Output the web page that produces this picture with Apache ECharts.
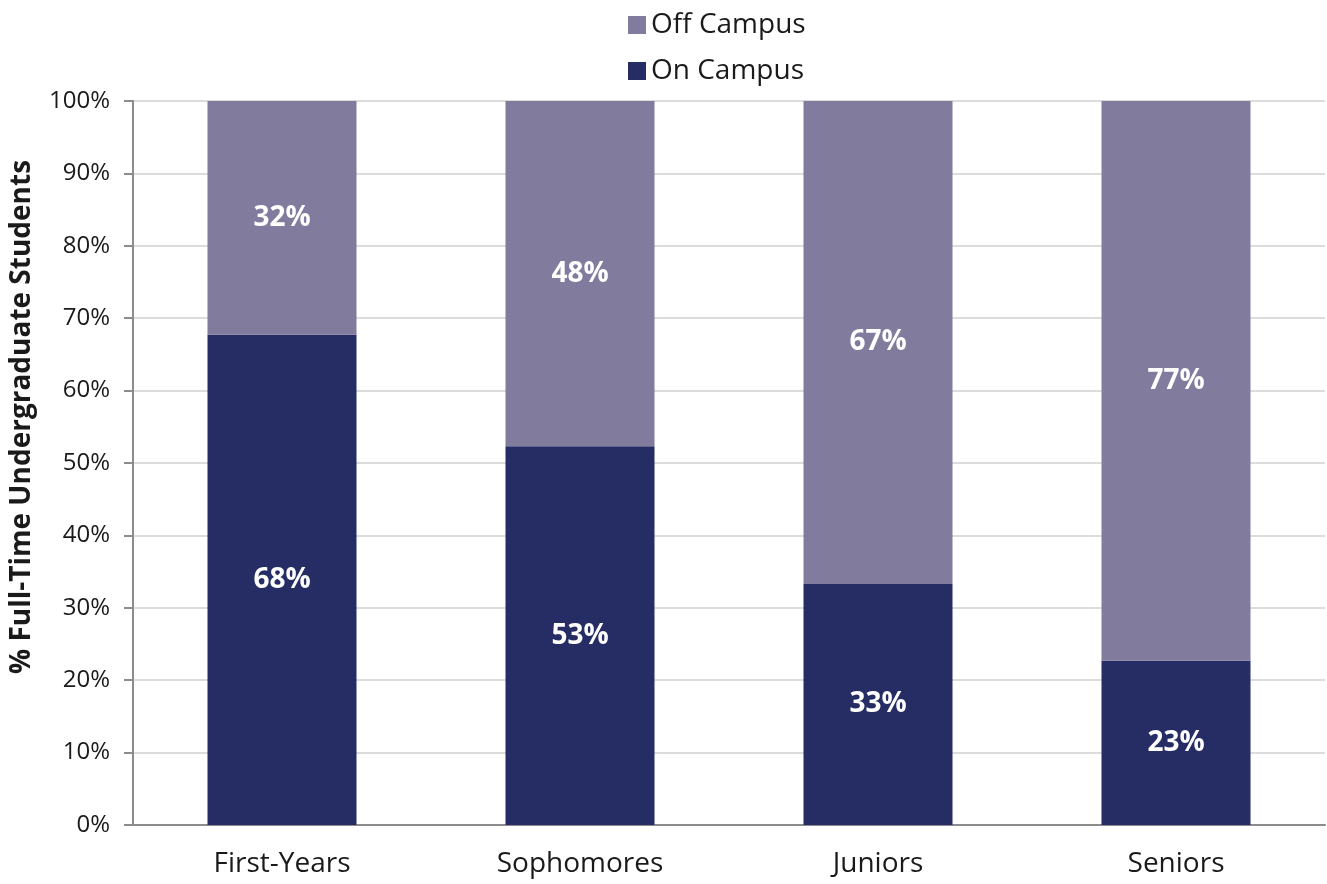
<!DOCTYPE html>
<html>
<head>
<meta charset="utf-8">
<script src="https://cdn.jsdelivr.net/npm/echarts@6/dist/echarts.min.js"></script>
<style>
  html, body { margin: 0; padding: 0; background: #fff; }
  #chart { width: 1327px; height: 884px; }
</style>
</head>
<body>
<div id="chart"></div>
<script>
// 类别与数据
const categories = ['First-Years', 'Sophomores', 'Juniors', 'Seniors'];
const onCampus = [67.7, 52.3, 33.3, 22.7];
const offCampus = [32.3, 47.7, 66.7, 77.3];
// 图中标注的文字
const onLabels = ['68%', '53%', '33%', '23%'];
const offLabels = ['32%', '48%', '67%', '77%'];
const yTicks = [0, 10, 20, 30, 40, 50, 60, 70, 80, 90, 100];

const FONT = '"Open Sans", "Noto Sans", sans-serif';

const chart = echarts.init(document.getElementById('chart'));

const option = {
    animation: false,
    textStyle: { fontFamily: FONT },
    legend: {
        orient: 'vertical',
        left: 623,
        top: 6,
        itemWidth: 18,
        itemHeight: 18,
        itemGap: 18,
        icon: 'rect',
        textStyle: { fontSize: 28, color: '#1a1a1a', fontFamily: FONT },
        data: ['Off Campus', 'On Campus']
    },
    grid: { left: 131, right: 2, top: 101, bottom: 59, containLabel: false },
    xAxis: {
        type: 'category',
        data: categories,
        axisLine: { show: true, lineStyle: { color: '#8c8c8c', width: 2 } },
        axisTick: { show: false },
        axisLabel: { fontSize: 28, color: '#1a1a1a', margin: 25, fontFamily: FONT }
    },
    yAxis: {
        type: 'value',
        min: yTicks[0],
        max: yTicks[yTicks.length - 1],
        interval: 10,
        name: '% Full-Time Undergraduate Students',
        nameLocation: 'middle',
        nameGap: 97,
        nameTextStyle: {
            fontSize: 28, fontWeight: 'bold', color: '#1a1a1a', fontFamily: FONT,
            padding: [0, 0, 0, 92]
        },
        axisLine: { show: true, lineStyle: { color: '#8c8c8c', width: 2 } },
        axisTick: { show: true, length: 9, lineStyle: { color: '#8c8c8c', width: 2 } },
        axisLabel: {
            fontSize: 24, color: '#1a1a1a', margin: 23, fontFamily: FONT,
            formatter: v => v + '%'
        },
        splitLine: { show: true, lineStyle: { color: '#dcdcdc', width: 2 } }
    },
    series: [
        {
            name: 'On Campus',
            type: 'bar',
            stack: 'total',
            barWidth: '50%',
            data: onCampus,
            itemStyle: { color: '#262d64' },
            label: {
                show: true,
                position: 'inside',
                formatter: p => onLabels[p.dataIndex],
                color: '#fff',
                fontSize: 28,
                fontWeight: 'bold',
                fontFamily: FONT
            }
        },
        {
            name: 'Off Campus',
            type: 'bar',
            stack: 'total',
            barWidth: '50%',
            data: offCampus,
            itemStyle: { color: '#817b9d' },
            label: {
                show: true,
                position: 'inside',
                formatter: p => offLabels[p.dataIndex],
                color: '#fff',
                fontSize: 28,
                fontWeight: 'bold',
                fontFamily: FONT
            }
        }
    ]
};

chart.setOption(option);
</script>
</body>
</html>
